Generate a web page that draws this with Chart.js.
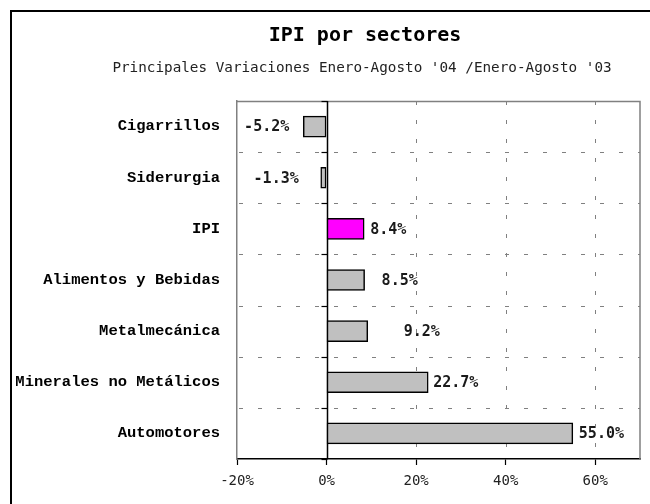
<!DOCTYPE html>
<html>
<head>
<meta charset="utf-8">
<script src="https://cdn.jsdelivr.net/npm/chart.js@4"></script>
<style>
  html, body { margin: 0; padding: 0; background: #fff; }
  #wrap { width: 650px; height: 504px; }
</style>
</head>
<body>
<div id="wrap"><canvas id="c" width="650" height="504"></canvas></div>
<script>
const titleText = 'IPI por sectores';
const subtitleText = "Principales Variaciones Enero-Agosto '04 /Enero-Agosto '03";
const categories = ['Cigarrillos', 'Siderurgia', 'IPI', 'Alimentos y Bebidas', 'Metalmecánica', 'Minerales no Metálicos', 'Automotores'];
const values = [-5.2, -1.3, 8.4, 8.5, 9.2, 22.7, 55.0];
const xTicks = [-20, 0, 20, 40, 60];
const xMin = -20, xMax = 70;

const barColors = categories.map(c => c === 'IPI' ? '#FF00FF' : '#C0C0C0');

const decor = {
  id: 'decor',
  beforeDraw(chart) {
    const ctx = chart.ctx;
    ctx.save();
    ctx.fillStyle = '#fff';
    ctx.fillRect(0, 0, chart.width, chart.height);
    ctx.strokeStyle = '#000';
    ctx.lineWidth = 2;
    ctx.beginPath();
    ctx.moveTo(11, 520);
    ctx.lineTo(11, 11);
    ctx.lineTo(700, 11);
    ctx.stroke();
    ctx.restore();
  },
  beforeDatasetsDraw(chart) {
    const ctx = chart.ctx;
    const a = chart.chartArea;
    const xs = chart.scales.x, ys = chart.scales.y;
    ctx.save();
    // dashed grid
    ctx.strokeStyle = '#808080';
    ctx.lineWidth = 1;
    ctx.setLineDash([4, 15]);
    xTicks.forEach(t => {
      if (t === xMin || t === 0) return;
      const px = Math.round(xs.getPixelForValue(t)) + 0.5;
      ctx.beginPath();
      ctx.moveTo(px, a.top);
      ctx.lineTo(px, a.bottom);
      ctx.stroke();
    });
    const n = categories.length;
    const bandH = (a.bottom - a.top) / n;
    const boundaries = [];
    for (let i = 0; i <= n; i++) {
      const y0 = ys.getPixelForValue(i) - bandH / 2;
      boundaries.push(y0);
    }
    for (let i = 1; i < n; i++) {
      const py = Math.round(boundaries[i]) + 0.5;
      ctx.beginPath();
      ctx.moveTo(a.left + 2, py);
      ctx.lineTo(a.right, py);
      ctx.stroke();
    }
    ctx.setLineDash([]);
    // frame top & right
    ctx.strokeStyle = '#808080';
    ctx.lineWidth = 1.5;
    ctx.beginPath();
    ctx.moveTo(a.left, a.top + 0.5);
    ctx.lineTo(a.right, a.top + 0.5);
    ctx.lineTo(a.right, a.bottom);
    ctx.stroke();
    // zero line
    const zx = Math.round(xs.getPixelForValue(0)) + 0.5;
    ctx.strokeStyle = '#000';
    ctx.lineWidth = 1.5;
    ctx.beginPath();
    ctx.moveTo(zx, a.top);
    ctx.lineTo(zx, a.bottom);
    ctx.stroke();
    // category tick marks
    ctx.lineWidth = 1.2;
    boundaries.forEach(b => {
      const py = Math.round(b) + 0.5;
      ctx.beginPath();
      ctx.moveTo(zx - 6, py);
      ctx.lineTo(zx, py);
      ctx.stroke();
    });
    ctx.restore();
  },
  afterDatasetsDraw(chart, args, opts) {
    const ctx = chart.ctx;
    const meta = chart.getDatasetMeta(0);
    ctx.save();
    ctx.font = 'bold 15px "DejaVu Sans Mono"';
    ctx.fillStyle = '#1a1a1a';
    ctx.textBaseline = 'middle';
    meta.data.forEach((bar, i) => {
      const v = values[i];
      const txt = v.toFixed(1) + '%';
      const gap = opts.gaps[i];
      if (v < 0) {
        ctx.textAlign = 'right';
        ctx.fillText(txt, bar.x - gap, bar.y + 1);
      } else {
        ctx.textAlign = 'left';
        ctx.fillText(txt, bar.x + gap, bar.y + 1);
      }
    });
    ctx.restore();
  },
  afterDraw(chart) {
    const ctx = chart.ctx;
    ctx.save();
    ctx.fillStyle = '#000';
    ctx.textAlign = 'center';
    ctx.textBaseline = 'middle';
    ctx.font = 'bold 20px "DejaVu Sans Mono"';
    ctx.fillText(titleText, 365, 36);
    ctx.font = '14.3px "DejaVu Sans Mono"';
    ctx.fillStyle = '#222';
    ctx.fillText(subtitleText, 362, 68);
    ctx.restore();
  }
};

new Chart(document.getElementById('c'), {
  type: 'bar',
  data: {
    labels: categories,
    datasets: [{
      data: values,
      backgroundColor: barColors,
      borderColor: '#000',
      borderWidth: 1.5,
      borderSkipped: false,
      barThickness: 21
    }]
  },
  options: {
    indexAxis: 'y',
    responsive: false,
    animation: false,
    events: [],
    layout: { padding: { top: 101, right: 10, left: 0, bottom: 0 } },
    plugins: {
      legend: { display: false },
      title: { display: false },
      tooltip: { enabled: false },
      decor: { gaps: [14, 22, 6, 17, 36, 5, 6] }
    },
    scales: {
      x: {
        type: 'linear',
        min: xMin,
        max: xMax,
        afterBuildTicks(scale) { scale.ticks = xTicks.map(v => ({ value: v })); },
        afterFit(scale) { scale.height = 45; },
        ticks: {
          includeBounds: false,
          callback: v => v + '%',
          font: { family: 'DejaVu Sans Mono', size: 14 },
          color: '#222',
          padding: 8,
          maxRotation: 0
        },
        grid: {
          drawOnChartArea: false,
          drawTicks: true,
          tickLength: 6,
          tickColor: '#000',
          tickWidth: 1.2
        },
        border: { display: true, color: '#000', width: 1.5 }
      },
      y: {
        afterFit(scale) { scale.width = 237; },
        ticks: {
          font: { family: 'Liberation Mono', size: 15.5, weight: 'bold' },
          color: '#000',
          padding: 17
        },
        grid: { drawOnChartArea: false, drawTicks: false },
        border: { display: true, color: '#808080', width: 1.5 }
      }
    }
  },
  plugins: [decor]
});
</script>
</body>
</html>
